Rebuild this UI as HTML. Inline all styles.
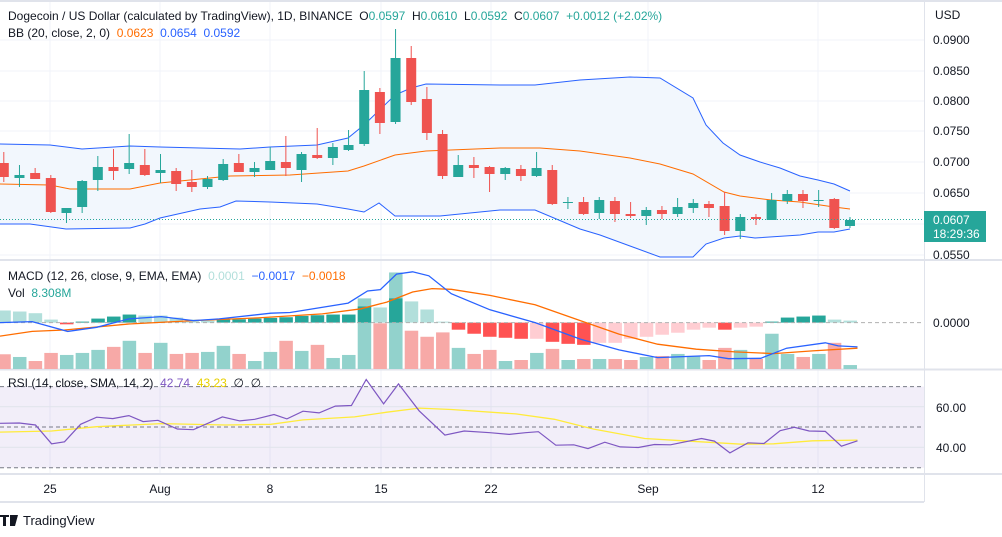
<!DOCTYPE html>
<html><head><meta charset="utf-8"><style>
html,body{margin:0;padding:0;background:#fff;width:1002px;height:537px;overflow:hidden}
svg{display:block;font-family:"Liberation Sans",sans-serif}
text{white-space:pre}
</style></head><body>
<svg id="s" width="1002" height="537" xmlns="http://www.w3.org/2000/svg" xml:space="preserve"></svg>
<script>
const S=document.getElementById('s');let h='';
const X=i=>3.8+15.67*i;
const bx=px=>px/1.551, by=py=>260+py/2.97;
function poly(pts,c,w,extra){h+=`<polyline fill="none" stroke="${c}" stroke-width="${w||1}" ${extra||''} points="${pts.map(p=>p[0].toFixed(1)+','+p[1].toFixed(1)).join(' ')}"/>`;}
h+='<rect x="0" y="0" width="1002" height="2" fill="#e0e3eb"/>';
const vx=[50,160,270,381,491,648,818];
[40,71,101,131,162,193,224,255].forEach(y=>h+=`<line x1="0" x2="924" y1="${y}" y2="${y}" stroke="#f0f3fa"/>`);
vx.forEach(x=>h+=`<line x1="${x}" x2="${x}" y1="2" y2="474" stroke="#f0f3fa"/>`);
const up=[[0,144],[50,145],[82,149],[130,146],[160,147],[240,149],[270,147],[317,145],[348,138],[364,125],[395,95],[411,88],[426,84],[500,85],[535,85],[580,80],[630,77],[660,78],[693,98],[706,125],[723,143],[740,155],[760,162],[780,168],[800,176],[818,180],[834,184],[850,191]];
const mid=[[0,184],[50,185],[70,189],[130,189],[160,183],[230,176],[290,175],[348,171],[364,166],[395,155],[426,151],[500,148],[540,148],[580,151],[630,158],[660,164],[693,174],[724,192],[740,196],[771,200],[800,202],[834,207],[850,209]];
const lo=[[0,224],[30,224],[66,229],[130,228],[145,224],[160,218],[200,209],[220,207],[236,201],[270,202],[317,204],[348,209],[364,212],[379,203],[395,216],[426,216],[440,216],[500,210],[535,210],[580,229],[600,235],[630,246],[660,257],[693,257],[706,244],[724,238],[740,236],[755,238],[800,235],[818,232],[834,232],[850,229]];
h+=`<polygon fill="#f2f7fd" points="${up.concat(lo.slice().reverse()).map(p=>p.join(',')).join(' ')}"/>`;
poly(up,'#2962ff',1);poly(lo,'#2962ff',1);poly(mid,'#ff6d00',1);
const C=[[163,177,152,182],[178,175,165,187],[173,179,168,179],[178,212,175,213],[213,208,208,223],[207,181,180,213],[180,167,156,191],[167,171,149,180],[169,163,134,174],[165,175,149,176],[173,170,154,183],[171,184,168,191],[182,187,170,192],[187,179,176,189],[180,164,159,181],[163,172,154,172],[172,168,162,177],[170,161,147,170],[162,168,136,176],[170,154,152,182],[155,158,128,159],[158,147,143,165],[150,145,130,151],[144,90,71,146],[92,123,88,134],[122,58,29,124],[58,102,46,105],[99,133,87,140],[134,176,130,179],[177,165,155,177],[165,168,157,178],[167,174,166,192],[174,168,167,180],[169,176,165,181],[176,168,152,177],[170,204,165,205],[202.5,202,197,209],[202,214,197,215],[213,200,197,219],[201,214,197,222],[214,216,202,218],[216,210,207,225],[210,214,206,219],[214,207,198,217],[208,203,199,213],[204,208,201,217],[206,231,192,235],[231,217,214,239],[217,219,214,225],[220,200,193,220],[201,194,190,204],[194,201,190,208],[201,200,190,207],[199,228,198,229],[226,220,217,228]];
C.forEach((c,i)=>{const x=X(i),g=c[1]<=c[0],col=g?'#26a69a':'#ef5350';
h+=`<line x1="${x}" x2="${x}" y1="${c[2]}" y2="${c[3]}" stroke="${col}"/>`;
const t=Math.min(c[0],c[1]),hh=Math.max(1,Math.abs(c[1]-c[0]));
h+=`<rect x="${x-5}" y="${t}" width="10" height="${hh}" fill="${col}"/>`;});
h+='<line x1="0" x2="924" y1="219.5" y2="219.5" stroke="#26a69a" stroke-dasharray="1,2"/>';
[260,369.5,474].forEach(y=>h+=`<line x1="0" x2="1002" y1="${y}" y2="${y}" stroke="#e0e3eb" stroke-width="2"/>`);
h+='<line x1="0" x2="924" y1="502" y2="502" stroke="#e0e3eb" stroke-width="2"/>';
h+='<line x1="924.5" x2="924.5" y1="0" y2="502" stroke="#e0e3eb"/>';
const V=[280,288,300,276,282,276,267,258,240,276,246,279,276,273,255,279,300,273,240,270,252,291,282,114,188,37,210,228,215,261,279,267,300,297,276,264,297,294,294,294,297,288,285,279,285,297,261,267,294,219,279,288,279,246,312];
V.forEach((v,i)=>{const g=C[i][1]<=C[i][0];const y=by(v);h+=`<rect x="${X(i)-6.5}" y="${y}" width="13.5" height="${369-y}" fill="${g?'#92d2cc':'#f7a9a7'}"/>`;});
const Hs=[[150,'L'],[153,'L'],[158,'L'],[177,'L'],[191,'R'],[183,'T'],[174,'T'],[168,'T'],[162,'T'],[165,'L'],[165,'L'],[171,'L'],[177,'L'],[180,'L'],[177,'T'],[176,'T'],[174,'T'],[172,'T'],[170,'T'],[166,'T'],[164,'T'],[162,'T'],[162,'T'],[138,'T'],[141,'L'],[114,'T'],[123,'L'],[147,'L'],[183,'L'],[207,'R'],[219,'R'],[228,'R'],[231,'R'],[234,'R'],[234,'P'],[243,'R'],[249,'R'],[252,'R'],[246,'P'],[246,'P'],[234,'P'],[228,'P'],[222,'P'],[216,'P'],[207,'P'],[201,'P'],[207,'R'],[201,'P'],[198,'P'],[183,'T'],[171,'T'],[168,'T'],[165,'T'],[177,'L'],[180,'L']];
const hc={L:'#b2dfdb',T:'#26a69a',R:'#ff5252',P:'#ffcdd2'};
const z=by(186);
Hs.forEach((v,i)=>{const y=by(v[0]);const t=Math.min(y,z),hh=Math.max(1,Math.abs(y-z));h+=`<rect x="${X(i)-6.5}" y="${t}" width="13.5" height="${hh}" fill="${hc[v[1]]}"/>`;});
h+=`<line x1="0" x2="924" y1="${z}" y2="${z}" stroke="#b0b0b0" stroke-dasharray="4,3"/>`;
const mb=[[0,186],[50,183],[105,212],[150,200],[200,175],[250,168],[300,180],[340,175],[420,158],[450,156],[540,128],[570,92],[590,88],[615,42],[640,35],[665,47],[700,100],[760,148],[830,186],[900,235],[960,267],[1020,290],[1100,284],[1130,293],[1180,292],[1220,262],[1280,246],[1300,255],[1330,258]];
const ms=[[0,226],[50,212],[100,208],[200,190],[300,180],[400,172],[500,160],[560,145],[600,125],[640,95],[670,85],[700,87],[760,105],[830,133],[900,180],[960,220],[1020,250],[1080,265],[1140,273],[1200,278],[1260,270],[1330,262]];
poly(ms.map(p=>[bx(p[0]),by(p[1])]),'#ff6d00',1.3);
poly(mb.map(p=>[bx(p[0]),by(p[1])]),'#2962ff',1.3);
h+=`<rect x="0" y="${by(376)}" width="924" height="${by(617)-by(376)}" fill="#7e57c2" fill-opacity="0.1"/>`;
[376,496,617].forEach(a=>h+=`<line x1="0" x2="924" y1="${by(a)}" y2="${by(a)}" stroke="#787b86" stroke-dasharray="4,3"/>`);
[436,556].forEach(p=>h+=`<line x1="0" x2="924" y1="${by(p)}" y2="${by(p)}" stroke="#e0e3eb"/>`);
const rs=[[0,485],[30,484],[55,490],[80,546],[100,540],[125,488],[150,467],[175,471],[200,462],[222,480],[245,476],[275,502],[300,504],[345,466],[372,478],[395,473],[425,459],[445,472],[470,449],[495,454],[520,434],[545,432],[568,355],[595,427],[618,368],[650,448],[690,520],[720,508],[760,513],[790,518],[815,513],[835,510],[862,550],[890,549],[912,560],[938,541],[962,555],[990,557],[1015,548],[1040,549],[1088,530],[1108,538],[1132,573],[1160,543],[1185,545],[1210,507],[1232,497],[1255,508],[1280,509],[1305,553],[1330,537]];
const ry=[[0,511],[80,508],[150,495],[250,486],[350,490],[420,488],[470,475],[550,466],[600,452],[650,440],[700,444],[800,457],[860,473],[920,502],[1000,530],[1060,537],[1150,547],[1200,546],[1260,537],[1330,535]];
poly(ry.map(p=>[bx(p[0]),by(p[1])]),'#ffeb3b',1.3);
poly(rs.map(p=>[bx(p[0]),by(p[1])]),'#7e57c2',1.2);
const T=(x,y,t,c,s,a)=>h+=`<text x="${x}" y="${y}" fill="${c||'#131722'}" font-size="${s||12}" ${a?'text-anchor="'+a+'"':''}>${t}</text>`;
T(935,19,'USD');
[['0.0900',40],['0.0850',71],['0.0800',101],['0.0750',131],['0.0700',162],['0.0650',193],['0.0550',255]].forEach(a=>T(933,a[1]+4,a[0]));
h+='<rect x="924" y="211" width="62" height="31" fill="#26a69a"/>';
T(933,224,'0.0607','#fff',12);T(933,238,'18:29:36','#fff',12);
T(933,327,'0.0000');T(936,412,'60.00');T(936,452,'40.00');
[['25',50],['Aug',160],['8',270],['15',381],['22',491],['Sep',648],['12',818]].forEach(a=>T(a[1],493,a[0],'#131722',12,'middle'));
h+=`<text x="8" y="20" font-size="12" fill="#131722">Dogecoin / US Dollar (calculated by TradingView), 1D, BINANCE  O<tspan fill="#26a69a">0.0597</tspan>  H<tspan fill="#26a69a">0.0610</tspan>  L<tspan fill="#26a69a">0.0592</tspan>  C<tspan fill="#26a69a">0.0607  +0.0012 (+2.02%)</tspan></text>`;
h+=`<text x="8" y="37" font-size="12" fill="#131722">BB (20, close, 2, 0)  <tspan fill="#ff6d00">0.0623</tspan>  <tspan fill="#2962ff">0.0654</tspan>  <tspan fill="#2962ff">0.0592</tspan></text>`;
h+=`<text x="8" y="280" font-size="12" fill="#131722">MACD (12, 26, close, 9, EMA, EMA)  <tspan fill="#b2dfdb">0.0001</tspan>  <tspan fill="#2962ff">−0.0017</tspan>  <tspan fill="#ff6d00">−0.0018</tspan></text>`;
h+=`<text x="8" y="297" font-size="12" fill="#131722">Vol  <tspan fill="#26a69a">8.308M</tspan></text>`;
h+=`<text x="8" y="387" font-size="12" fill="#131722">RSI (14, close, SMA, 14, 2)  <tspan fill="#7e57c2">42.74</tspan>  <tspan fill="#e8d000">43.23</tspan>  ∅  ∅</text>`;
h+='<path d="M0 515h9v2h-3v9h-3v-9h-3z M10 515h4l-2 11h-2z M14 515h4l-3 11h-3z" fill="#131722"/>';
T(23,525,'TradingView','#131722',13);
S.innerHTML=h;
</script>
</body></html>
